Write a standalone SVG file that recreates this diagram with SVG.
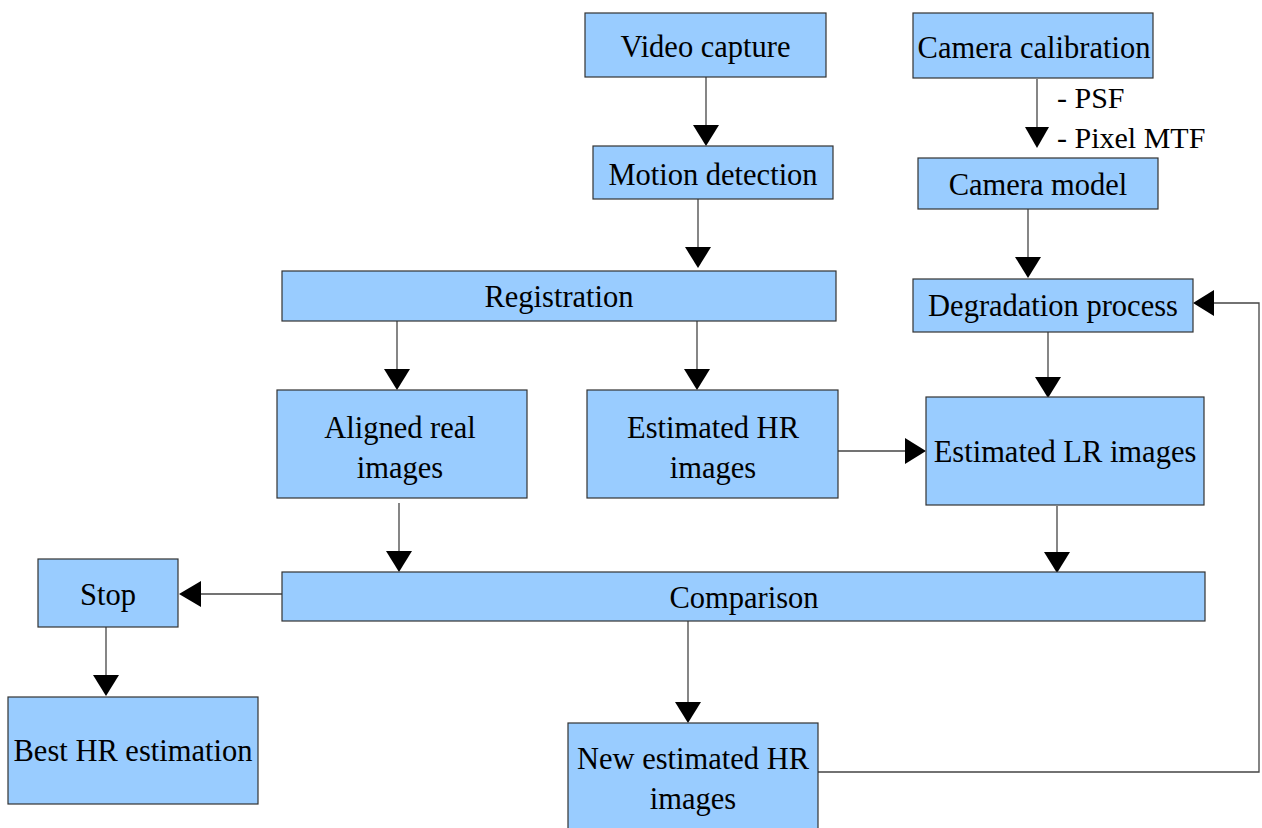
<svg xmlns="http://www.w3.org/2000/svg" width="1262" height="828" viewBox="0 0 1262 828">
  <style>
    .box { fill: #99ccff; stroke: #333333; stroke-width: 1.2; }
    .lbl { font-family: "Liberation Serif", "Times New Roman", serif; font-size: 30.5px; fill: #000000; text-anchor: middle; }
    .note { font-family: "Liberation Serif", "Times New Roman", serif; font-size: 30px; fill: #000000; }
    .wire { fill: none; stroke: #444444; stroke-width: 1.3; }
    .head { fill: #000000; }
  </style>
  <rect width="1262" height="828" fill="#ffffff"/>

  <g id="connectors">
    <!-- Video capture -> Motion detection -->
    <line class="wire" x1="706" y1="77" x2="706" y2="128"/>
    <polygon class="head" points="693,125 719,125 706,146"/>
    <!-- Motion detection -> Registration -->
    <line class="wire" x1="698" y1="199" x2="698" y2="250"/>
    <polygon class="head" points="685,247 711,247 698,268"/>
    <!-- Camera calibration -> Camera model -->
    <line class="wire" x1="1037" y1="79" x2="1037" y2="130"/>
    <polygon class="head" points="1025,127 1049,127 1037,148"/>
    <!-- Camera model -> Degradation process -->
    <line class="wire" x1="1028" y1="209" x2="1028" y2="260"/>
    <polygon class="head" points="1015,257 1041,257 1028,278"/>
    <!-- Degradation process -> Estimated LR images -->
    <line class="wire" x1="1048" y1="332" x2="1048" y2="380"/>
    <polygon class="head" points="1035,377 1061,377 1048,398"/>
    <!-- Registration -> Aligned real images -->
    <line class="wire" x1="397" y1="321" x2="397" y2="372"/>
    <polygon class="head" points="384,369 410,369 397,390"/>
    <!-- Registration -> Estimated HR images -->
    <line class="wire" x1="697" y1="321" x2="697" y2="372"/>
    <polygon class="head" points="684,369 710,369 697,390"/>
    <!-- Estimated HR images -> Estimated LR images -->
    <line class="wire" x1="838" y1="451" x2="908" y2="451"/>
    <polygon class="head" points="905,438 905,464 926,451"/>
    <!-- Aligned real images -> Comparison -->
    <line class="wire" x1="399" y1="503" x2="399" y2="554"/>
    <polygon class="head" points="386,551 412,551 399,572"/>
    <!-- Estimated LR images -> Comparison -->
    <line class="wire" x1="1057" y1="506" x2="1057" y2="555"/>
    <polygon class="head" points="1044,552 1070,552 1057,573"/>
    <!-- Comparison -> Stop -->
    <line class="wire" x1="282" y1="594" x2="198" y2="594"/>
    <polygon class="head" points="201,581 201,607 179,594"/>
    <!-- Stop -> Best HR estimation -->
    <line class="wire" x1="106" y1="627" x2="106" y2="678"/>
    <polygon class="head" points="93,675 119,675 106,696"/>
    <!-- Comparison -> New estimated HR images -->
    <line class="wire" x1="688" y1="621" x2="688" y2="705"/>
    <polygon class="head" points="675,702 701,702 688,723"/>
    <!-- New estimated HR images -> Degradation process (feedback loop) -->
    <polyline class="wire" points="818,772 1259,772 1259,303 1212,303"/>
    <polygon class="head" points="1214,290 1214,316 1193,303"/>
  </g>

  <g id="video-capture">
    <rect class="box" x="585" y="13" width="241" height="64"/>
    <text class="lbl" x="705.5" y="57">Video capture</text>
  </g>
  <g id="motion-detection">
    <rect class="box" x="593" y="146" width="240" height="53"/>
    <text class="lbl" x="713" y="185">Motion detection</text>
  </g>
  <g id="camera-calibration">
    <rect class="box" x="913" y="13" width="240" height="65"/>
    <text class="lbl" x="1034" y="58">Camera calibration</text>
  </g>
  <g id="calibration-outputs">
    <text class="note" x="1057" y="108">- PSF</text>
    <text class="note" x="1057" y="148">- Pixel MTF</text>
  </g>
  <g id="camera-model">
    <rect class="box" x="918" y="158" width="240" height="51"/>
    <text class="lbl" x="1038" y="195">Camera model</text>
  </g>
  <g id="degradation-process">
    <rect class="box" x="913" y="279" width="280" height="53"/>
    <text class="lbl" x="1053" y="316">Degradation process</text>
  </g>
  <g id="registration">
    <rect class="box" x="282" y="271" width="554" height="50"/>
    <text class="lbl" x="559" y="307">Registration</text>
  </g>
  <g id="aligned-real-images">
    <rect class="box" x="277" y="390" width="250" height="108"/>
    <text class="lbl" x="400" y="438">Aligned real</text>
    <text class="lbl" x="400" y="478">images</text>
  </g>
  <g id="estimated-hr-images">
    <rect class="box" x="587" y="390" width="251" height="108"/>
    <text class="lbl" x="713" y="438">Estimated HR</text>
    <text class="lbl" x="713" y="478">images</text>
  </g>
  <g id="estimated-lr-images">
    <rect class="box" x="926" y="397" width="278" height="108"/>
    <text class="lbl" x="1065" y="462">Estimated LR images</text>
  </g>
  <g id="comparison">
    <rect class="box" x="282" y="572" width="923" height="49"/>
    <text class="lbl" x="744" y="608">Comparison</text>
  </g>
  <g id="stop">
    <rect class="box" x="38" y="559" width="140" height="68"/>
    <text class="lbl" x="108" y="605">Stop</text>
  </g>
  <g id="best-hr-estimation">
    <rect class="box" x="8" y="697" width="250" height="107"/>
    <text class="lbl" x="133" y="761">Best HR estimation</text>
  </g>
  <g id="new-estimated-hr-images">
    <rect class="box" x="568" y="723" width="250" height="110"/>
    <text class="lbl" x="693" y="769">New estimated HR</text>
    <text class="lbl" x="693" y="809">images</text>
  </g>
</svg>
